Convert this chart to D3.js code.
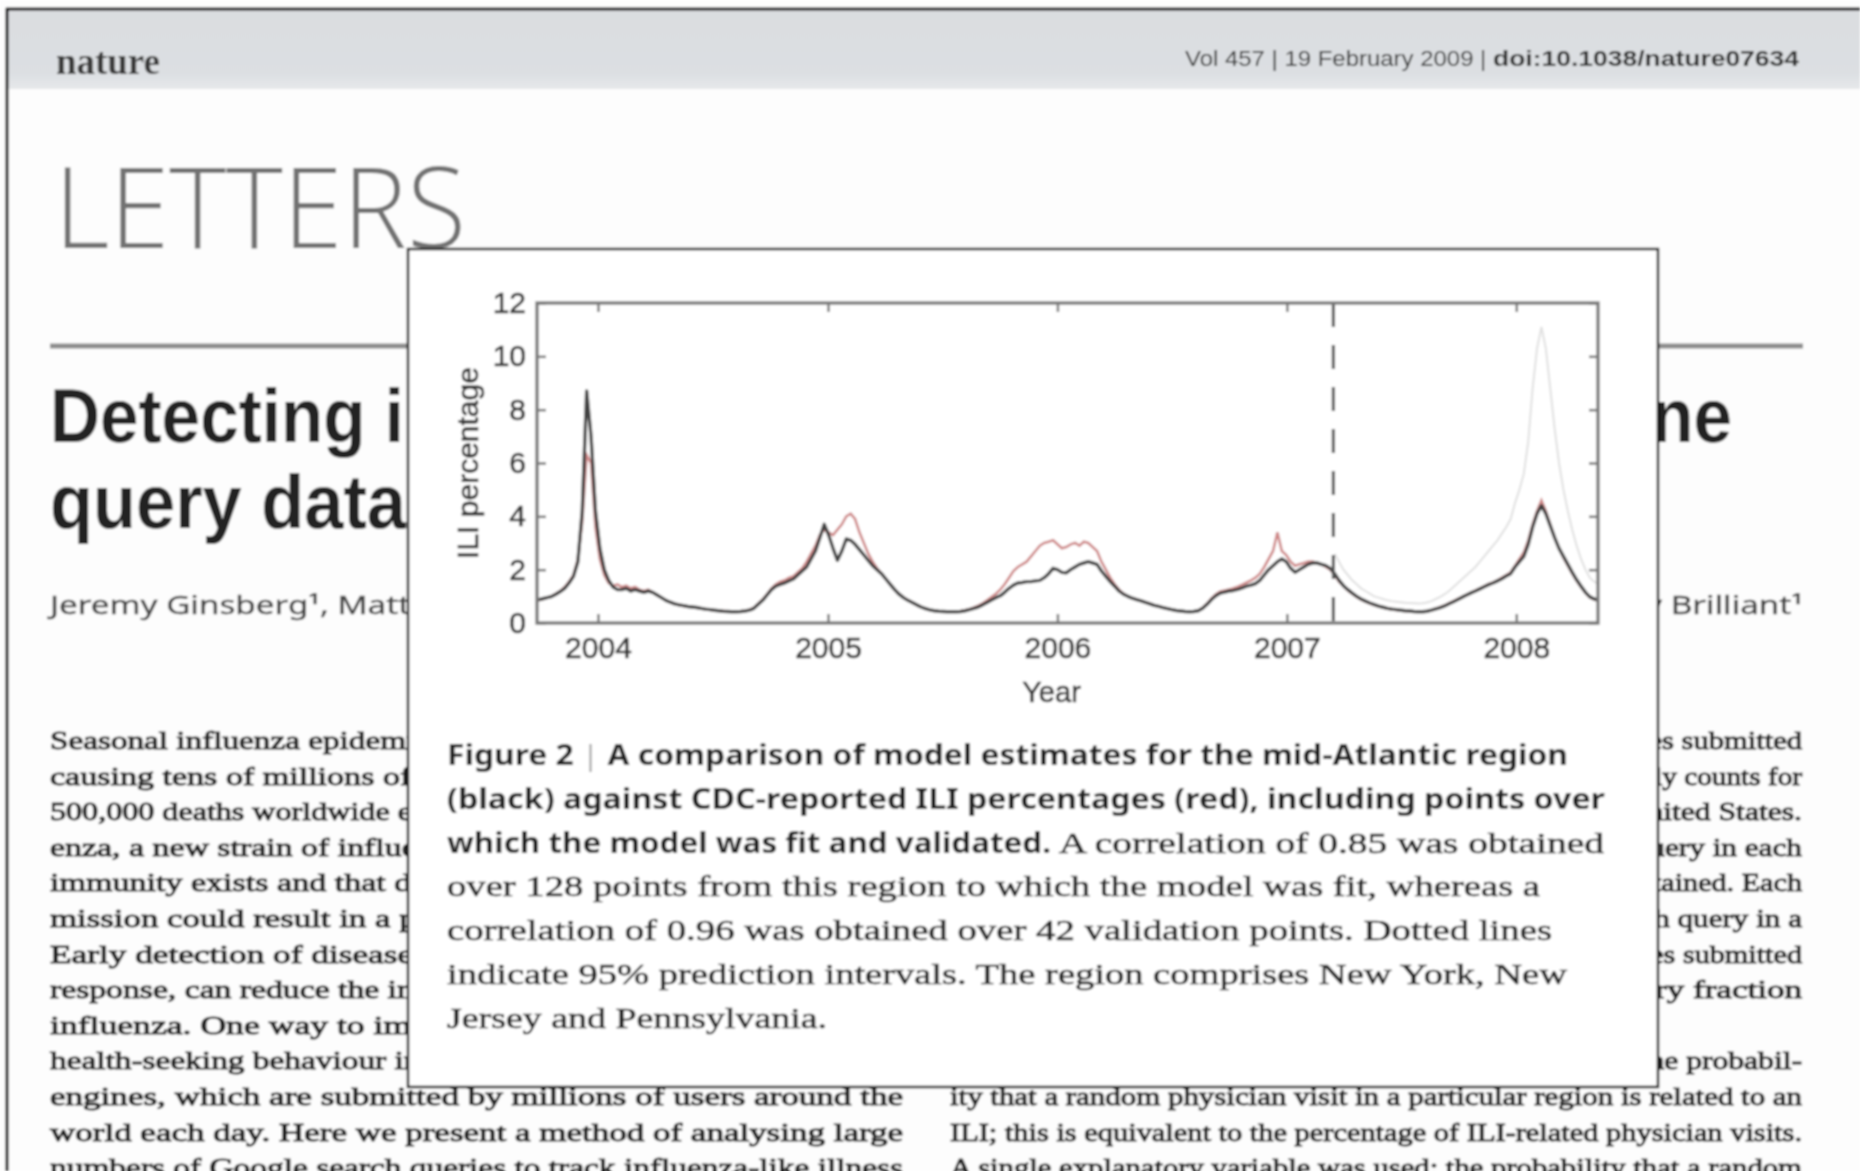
<!DOCTYPE html>
<html>
<head>
<meta charset="utf-8">
<script src="https://cdn.jsdelivr.net/npm/d3@7"></script>
<style>
  html, body { margin: 0; padding: 0; background: #fff; }
  svg { display: block; }
</style>
</head>
<body>
<svg id="page" width="1860" height="1171"></svg>
<script>
// weekly series, first week starting 28 Sep 2003
const firstWeek = new Date(2003, 8, 28)

// model estimate (black)
const modelEstimate = [
  0.87, 0.91, 0.95, 0.99, 1.08, 1.18, 1.3, 1.5, 1.75, 2.3,
  4.2, 8.7, 7.0, 4.2, 2.8, 2.0, 1.6, 1.35, 1.25, 1.25,
  1.3, 1.2, 1.25, 1.2, 1.15, 1.2, 1.15, 1.05, 0.95, 0.85,
  0.78, 0.72, 0.68, 0.65, 0.62, 0.6, 0.58, 0.55, 0.52, 0.5,
  0.48, 0.46, 0.44, 0.43, 0.42, 0.42, 0.43, 0.45, 0.48, 0.55,
  0.7, 0.85, 1.05, 1.25, 1.38, 1.45, 1.5, 1.58, 1.65, 1.8,
  1.95, 2.1, 2.4, 2.7, 3.2, 3.7, 3.3, 2.8, 2.35, 2.7,
  3.15, 3.1, 2.95, 2.75, 2.55, 2.35, 2.15, 2.0, 1.85, 1.65,
  1.45, 1.25, 1.08, 0.95, 0.85, 0.77, 0.68, 0.6, 0.54, 0.49,
  0.46, 0.44, 0.43, 0.42, 0.42, 0.42, 0.43, 0.46, 0.5, 0.55,
  0.6, 0.68, 0.77, 0.86, 0.95, 1.02, 1.15, 1.3, 1.42, 1.5,
  1.52, 1.55, 1.55, 1.58, 1.6, 1.7, 1.85, 2.05, 2.0, 1.9,
  1.88, 2.0, 2.1, 2.2, 2.25, 2.3, 2.25, 2.2, 1.95, 1.75,
  1.55, 1.38, 1.2, 1.08, 1.0, 0.93, 0.88, 0.83, 0.77, 0.72,
  0.66, 0.62, 0.58, 0.54, 0.5, 0.47, 0.45, 0.43, 0.42, 0.43,
  0.46, 0.55, 0.7, 0.88, 1.02, 1.12, 1.16, 1.2, 1.22, 1.26,
  1.32, 1.38, 1.42, 1.48, 1.6, 1.8, 2.0, 2.15, 2.3, 2.4,
  2.3, 2.05, 1.9, 2.0, 2.1, 2.2, 2.25, 2.25, 2.2, 2.15,
  2.05, 1.85, 1.6, 1.4, 1.25, 1.12, 1.0, 0.9, 0.82, 0.75,
  0.69, 0.63, 0.59, 0.55, 0.52, 0.5, 0.48, 0.46, 0.45, 0.43,
  0.42, 0.42, 0.44, 0.48, 0.53, 0.58, 0.64, 0.72, 0.8, 0.88,
  0.97, 1.05, 1.13, 1.2, 1.28, 1.36, 1.44, 1.5, 1.58, 1.66,
  1.76, 1.85, 2.1, 2.3, 2.5, 2.95, 3.6, 4.1, 4.4, 4.1,
  3.65, 3.2, 2.8, 2.5, 2.2, 1.9, 1.62, 1.38, 1.15, 0.98,
  0.9, 0.86
]

// CDC-reported ILI percentage (red)
const cdcReported = [
  0.85, 0.9, 0.95, 1.0, 1.1, 1.2, 1.35, 1.55, 1.8, 2.4,
  3.8, 6.3, 6.0, 3.6, 2.4, 1.8, 1.5, 1.4, 1.45, 1.35,
  1.4, 1.3, 1.35, 1.25, 1.2, 1.25, 1.15, 1.05, 0.95, 0.85,
  0.78, 0.72, 0.68, 0.64, 0.62, 0.6, 0.57, 0.55, 0.52, 0.5,
  0.48, 0.46, 0.45, 0.44, 0.43, 0.43, 0.44, 0.46, 0.5, 0.57,
  0.72, 0.88, 1.08, 1.3, 1.45, 1.55, 1.6, 1.7, 1.75, 1.9,
  2.05, 2.3, 2.6, 2.9, 3.3, 3.5, 3.4, 3.3, 3.5, 3.7,
  4.0, 4.1, 3.9, 3.4, 3.0, 2.6, 2.3, 2.05, 1.85, 1.65,
  1.45, 1.25, 1.1, 0.96, 0.86, 0.77, 0.68, 0.6, 0.54, 0.49,
  0.46, 0.44, 0.43, 0.42, 0.42, 0.43, 0.45, 0.48, 0.52, 0.58,
  0.65, 0.74, 0.85, 0.97, 1.1, 1.25, 1.45, 1.7, 1.95, 2.1,
  2.2, 2.3, 2.5, 2.7, 2.9, 3.0, 3.05, 3.1, 2.95, 2.8,
  2.85, 2.95, 3.0, 2.9, 3.05, 3.0, 2.85, 2.7, 2.3, 2.0,
  1.7, 1.45, 1.25, 1.1, 1.0, 0.93, 0.88, 0.83, 0.78, 0.73,
  0.67, 0.62, 0.58, 0.54, 0.5, 0.47, 0.45, 0.43, 0.42, 0.43,
  0.47, 0.57, 0.73, 0.92, 1.08, 1.18, 1.22, 1.26, 1.3, 1.36,
  1.44, 1.52, 1.6, 1.7, 1.85, 2.1, 2.4, 2.7, 3.4, 2.7,
  2.55, 2.3, 2.15, 2.2, 2.25, 2.3, 2.3, 2.25, 2.2, 2.1,
  2.0, 1.8, 1.55, 1.38, 1.22, 1.1, 0.98, 0.88, 0.8, 0.73,
  0.67, 0.62, 0.58, 0.54, 0.51, 0.49, 0.47, 0.45, 0.44, 0.43,
  0.42, 0.43, 0.45, 0.49, 0.54, 0.6, 0.66, 0.74, 0.82, 0.9,
  0.98, 1.06, 1.14, 1.22, 1.3, 1.38, 1.46, 1.52, 1.6, 1.7,
  1.8, 1.9, 2.15, 2.4, 2.65, 3.1, 3.7, 4.2, 4.6, 4.2,
  3.7, 3.2, 2.8, 2.45, 2.15, 1.85, 1.58, 1.35, 1.13, 0.96,
  0.88, 0.84
]

// upper 95% prediction interval over the validation weeks, from 18 Mar 2007
const intervalFirstWeek = new Date(2007, 2, 18)
const upperInterval = [
  2.6, 2.3, 2.0, 1.8, 1.6, 1.45, 1.3, 1.2, 1.1, 1.0,
  0.95, 0.9, 0.85, 0.82, 0.8, 0.78, 0.76, 0.75, 0.74, 0.73,
  0.74, 0.77, 0.82, 0.9, 0.98, 1.08, 1.2, 1.35, 1.5, 1.65,
  1.8, 1.95, 2.1, 2.3, 2.5, 2.7, 2.9, 3.1, 3.35, 3.6,
  3.9, 4.5, 5.0, 5.6, 6.8, 8.8, 10.3, 11.1, 10.3, 8.8,
  7.3, 6.0, 5.0, 4.2, 3.5, 2.9, 2.4, 2.0, 1.7, 1.55,
  1.45
]

const validationStart = new Date(2007, 2, 16)
const yearTicks = [2004, 2005, 2006, 2007, 2008]
const yTicks = [0, 2, 4, 6, 8, 10, 12]

const titleLines = ['Detecting influenza epidemics using search engine', 'query data']
const authors = 'Jeremy Ginsberg¹, Matthew H. Mohebbi¹, Rajan S. Patel¹, Lynnette Brammer², Mark S. Smolinski¹ & Larry Brilliant¹'

const leftColumn = [
  'Seasonal influenza epidemics are a major public health concern,',
  'causing tens of millions of respiratory illnesses and 250,000 to',
  '500,000 deaths worldwide each year. In addition to seasonal influ-',
  'enza, a new strain of influenza virus against which no previous',
  'immunity exists and that demonstrates human-to-human trans-',
  'mission could result in a pandemic with millions of fatalities.',
  'Early detection of disease activity, when followed by a rapid',
  'response, can reduce the impact of both seasonal and pandemic',
  'influenza. One way to improve early detection is to monitor',
  'health-seeking behaviour in the form of queries to online search',
  'engines, which are submitted by millions of users around the',
  'world each day. Here we present a method of analysing large',
  'numbers of Google search queries to track influenza-like illness'
]
const rightColumn = [
  'By aggregating historical logs of online web search queries submitted',
  'between 2003 and 2008, we computed a time series of weekly counts for',
  '50 million of the most common search queries in the United States.',
  'Separate aggregate weekly counts were kept for every query in each',
  'state. No information about the identity of any user was retained. Each',
  'time series was normalized by dividing the count for each query in a',
  'particular week by the total number of online search queries submitted',
  'in that location during the week, resulting in a query fraction',
  '(Supplementary Fig. 1).',
  'We sought to develop a simple model that estimates the probabil-',
  'ity that a random physician visit in a particular region is related to an',
  'ILI; this is equivalent to the percentage of ILI-related physician visits.',
  'A single explanatory variable was used: the probability that a random'
]
const captionLines = [
  [['b', 'Figure 2 '], ['bar', '|'], ['b', ' A comparison of model estimates for the mid-Atlantic region']],
  [['b', '(black) against CDC-reported ILI percentages (red), including points over']],
  [['b', 'which the model was fit and validated.'], ['r', ' A correlation of 0.85 was obtained']],
  [['r', 'over 128 points from this region to which the model was fit, whereas a']],
  [['r', 'correlation of 0.96 was obtained over 42 validation points. Dotted lines']],
  [['r', 'indicate 95% prediction intervals. The region comprises New York, New']],
  [['r', 'Jersey and Pennsylvania.']]
]
const captionWidths = [1121, 1158, 1157, 1093, 1105, 1120, 380]

const SANS = '"Noto Sans", "Open Sans", sans-serif'
const SERIF = '"Liberation Serif", "DejaVu Serif", serif'
const ARIAL = '"Liberation Sans", Arial, sans-serif'

const svg = d3.select('#page')
const W = 1860, H = 1171
const defs = svg.append('defs')
defs.append('filter').attr('id', 'soft').attr('x', 0).attr('y', 0).attr('width', 1).attr('height', 1)
  .append('feGaussianBlur').attr('stdDeviation', 0.85)

const root = svg.append('g').attr('filter', 'url(#soft)')

// figure box that lies over the page
const box = { x0: 408, x1: 1658, y0: 249, y1: 1087 }

// ---- page behind the figure ----
root.append('rect').attr('width', W).attr('height', H).attr('fill', '#fdfdfd')

let grad = defs.append('linearGradient')
  .attr('id', 'band').attr('x1', 0).attr('y1', 0).attr('x2', 0).attr('y2', 1)
grad.append('stop').attr('offset', '0%').attr('stop-color', '#dadde0')
grad.append('stop').attr('offset', '80%').attr('stop-color', '#dcdfe2')
grad.append('stop').attr('offset', '100%').attr('stop-color', '#e6e8ea')
root.append('rect').attr('x', 8).attr('y', 9).attr('width', W - 8).attr('height', 80).attr('fill', 'url(#band)')

// draws a line of page text stretched to width; the part under the figure box is left out
function pageText(str, x0, yb, width, attrs) {
  let t = root.append('text').attr('x', x0).attr('y', yb).text(str)
  Object.entries(attrs).forEach(([k, v]) => t.attr(k, v))
  let node = t.node()
  let natural = node.getComputedTextLength()
  let k = width ? width / natural : 1
  let fs = attrs['font-size']
  let covered = yb > box.y0 + 2 && yb - 0.62 * fs < box.y1 && x0 + natural * k > box.x0 && x0 < box.x1
  if (!covered) {
    if (width) t.attr('textLength', width).attr('lengthAdjust', 'spacingAndGlyphs')
    return
  }
  let pos = i => (i == 0 ? 0 : node.getSubStringLength(0, i)) * k + x0
  let n = str.length
  let kL = 0
  while (kL < n && pos(kL) < box.x0) kL++
  let kR = n
  while (kR > 0 && pos(kR) > box.x1) kR--
  let leftW = pos(kL) - x0, rightX = pos(kR), rightW = x0 + natural * k - rightX
  let right = str.slice(kR)
  t.text(str.slice(0, kL))
  if (kL > 0) t.attr('textLength', leftW).attr('lengthAdjust', 'spacingAndGlyphs')
  else t.remove()
  if (right.length > 0 && right.trim().length > 0) {
    let r = root.append('text').attr('x', rightX).attr('y', yb).text(right)
    Object.entries(attrs).forEach(([a, v]) => r.attr(a, v))
    r.attr('textLength', rightW).attr('lengthAdjust', 'spacingAndGlyphs')
  }
}

pageText('nature', 56, 74, 104,
  { 'font-family': SERIF, 'font-weight': 'bold', 'font-size': 38, fill: '#3a3a3a' })

let hdr = root.append('text')
  .attr('x', 1185).attr('y', 66)
  .attr('font-family', ARIAL).attr('font-size', 22).attr('fill', '#2e2e2e')
hdr.append('tspan').attr('textLength', 308).attr('lengthAdjust', 'spacingAndGlyphs').text('Vol 457 | 19 February 2009 | ')
hdr.append('tspan').attr('font-weight', 'bold').attr('textLength', 306).attr('lengthAdjust', 'spacingAndGlyphs').text('doi:10.1038/nature07634')

pageText('LETTERS', 54, 248, 412,
  { 'font-family': '"Open Sans", "Noto Sans", sans-serif', 'font-weight': 300, 'font-size': 112, fill: '#727272' })

root.append('line')
  .attr('x1', 50).attr('x2', 1803).attr('y1', 346).attr('y2', 346)
  .attr('stroke', '#8c8c8c').attr('stroke-width', 5)

const titleStyle = { 'font-family': ARIAL, 'font-weight': 'bold', 'font-size': 76, fill: '#222' }
pageText(titleLines[0], 50, 442, 1682, titleStyle)
pageText(titleLines[1], 50, 528, 356, titleStyle)

pageText(authors, 50, 614, 1753,
  { 'font-family': SANS, 'font-size': 25, fill: '#444', stroke: '#444', 'stroke-width': 0.4 })

const bodyTop = 749, lead = 35.6
const bodyStyle = { 'font-family': SERIF, 'font-size': 26, fill: '#222', stroke: '#222', 'stroke-width': 1.1 }
function column(lines, x0, width, ragged, indent) {
  lines.forEach((s, i) => {
    let dx = indent.includes(i) ? 26 : 0
    pageText(s, x0 + dx, bodyTop + i * lead, ragged.includes(i) ? null : width - dx, bodyStyle)
  })
}
column(leftColumn, 50, 853, [], [])
column(rightColumn, 950, 852, [8], [9])

// ---- figure box ----
root.append('rect')
  .attr('x', box.x0).attr('y', box.y0).attr('width', box.x1 - box.x0).attr('height', box.y1 - box.y0)
  .attr('fill', '#ffffff').attr('stroke', '#111').attr('stroke-width', 2.5)

const plot = { left: 537, right: 1598, top: 303, bottom: 623 }
const x = d3.scaleTime()
  .domain([new Date(2003, 8, 26), new Date(2008, 4, 10)])
  .range([plot.left, plot.right])
const y = d3.scaleLinear().domain([0, 12]).range([plot.bottom, plot.top])

const weekly = (start, vals) => vals.map((v, i) => ({ date: d3.timeDay.offset(start, 7 * i), v: v }))
const modelData = weekly(firstWeek, modelEstimate)
const cdcData = weekly(firstWeek, cdcReported)
const upperData = weekly(intervalFirstWeek, upperInterval)

defs.append('clipPath').attr('id', 'plotclip')
  .append('rect').attr('x', plot.left).attr('y', plot.top)
  .attr('width', plot.right - plot.left).attr('height', plot.bottom - plot.top)

const line = d3.line().x(d => x(d.date)).y(d => y(d.v))
const g = root.append('g').attr('clip-path', 'url(#plotclip)')

g.append('path').datum(upperData).attr('d', line)
  .attr('fill', 'none').attr('stroke', '#e0e0e0').attr('stroke-width', 2)
g.append('path').datum(cdcData).attr('d', line)
  .attr('fill', 'none').attr('stroke', '#cf8888').attr('stroke-width', 2.6)
g.append('path').datum(modelData).attr('d', line)
  .attr('fill', 'none').attr('stroke', '#424242').attr('stroke-width', 3.4).attr('stroke-linejoin', 'round')

g.append('line')
  .attr('x1', x(validationStart)).attr('x2', x(validationStart))
  .attr('y1', plot.top).attr('y2', plot.bottom)
  .attr('stroke', '#555').attr('stroke-width', 3.2).attr('stroke-dasharray', '24,18')

const yearDates = yearTicks.map(yr => new Date(yr, 0, 1))
const xAxis = d3.axisBottom(x).tickValues(yearDates).tickFormat(d3.timeFormat('%Y'))
  .tickSizeInner(-9).tickSizeOuter(0).tickPadding(14)
const xTop = d3.axisTop(x).tickValues(yearDates).tickFormat('')
  .tickSizeInner(-9).tickSizeOuter(0)
const yAxis = d3.axisLeft(y).tickValues(yTicks).tickSizeInner(-9).tickSizeOuter(0).tickPadding(11)
const yRight = d3.axisRight(y).tickValues(yTicks).tickFormat('').tickSizeInner(-9).tickSizeOuter(0)

const axes = [
  [xAxis, `translate(0,${plot.bottom})`],
  [xTop, `translate(0,${plot.top})`],
  [yAxis, `translate(${plot.left},0)`],
  [yRight, `translate(${plot.right},0)`]
]
axes.forEach(([ax, tr]) => {
  let a = root.append('g').attr('transform', tr).call(ax)
  a.select('.domain').remove()
  a.selectAll('line').attr('stroke', '#777').attr('stroke-width', 2.5)
  a.selectAll('text').attr('font-family', ARIAL).attr('font-size', 30).attr('fill', '#363636')
    .attr('stroke', '#363636').attr('stroke-width', 0.6)
})

root.append('rect')
  .attr('x', plot.left).attr('y', plot.top)
  .attr('width', plot.right - plot.left).attr('height', plot.bottom - plot.top)
  .attr('fill', 'none').attr('stroke', '#7a7a7a').attr('stroke-width', 3.4)

root.append('text')
  .attr('x', (plot.left + plot.right) / 2 - 16).attr('y', 702)
  .attr('text-anchor', 'middle')
  .attr('font-family', ARIAL).attr('font-size', 29).attr('fill', '#363636')
  .attr('stroke', '#363636').attr('stroke-width', 0.6)
  .text('Year')
root.append('text')
  .attr('transform', `translate(478,${(plot.top + plot.bottom) / 2}) rotate(-90)`)
  .attr('text-anchor', 'middle')
  .attr('font-family', ARIAL).attr('font-size', 30).attr('fill', '#363636')
  .attr('stroke', '#363636').attr('stroke-width', 0.6)
  .text('ILI percentage')

// ---- caption ----
captionLines.forEach((parts, i) => {
  let t = root.append('text')
    .attr('x', 447).attr('y', 765 + i * 43.8)
    .attr('fill', '#222')
  parts.forEach(([kind, s]) => {
    let sp = t.append('tspan').text(s)
    if (kind == 'b') sp.attr('font-family', SANS).attr('font-weight', 'bold').attr('font-size', 28)
    else if (kind == 'bar') sp.attr('font-family', SANS).attr('font-size', 28).attr('fill', '#aaa')
    else sp.attr('font-family', SERIF).attr('font-size', 29).attr('stroke', '#2a2a2a').attr('stroke-width', 0.6)
  })
  if (i == 2) {
    t.select('tspan:nth-child(1)').attr('textLength', 604).attr('lengthAdjust', 'spacingAndGlyphs')
    t.select('tspan:nth-child(2)').attr('textLength', 553).attr('lengthAdjust', 'spacingAndGlyphs')
  } else {
    t.attr('textLength', captionWidths[i]).attr('lengthAdjust', 'spacingAndGlyphs')
  }
})

// outer frame of the photographed page
root.append('line').attr('x1', 6).attr('x2', W).attr('y1', 9).attr('y2', 9).attr('stroke', '#111').attr('stroke-width', 3)
root.append('line').attr('x1', 7).attr('x2', 7).attr('y1', 8).attr('y2', H).attr('stroke', '#111').attr('stroke-width', 3)
</script>
</body>
</html>
